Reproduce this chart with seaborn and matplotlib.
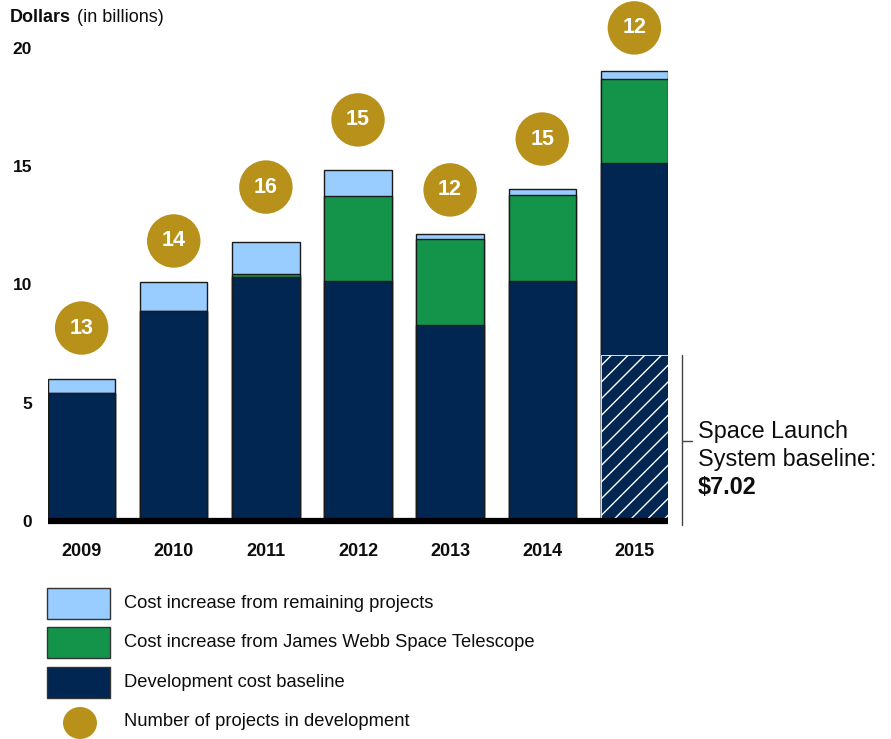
import matplotlib
matplotlib.use("Agg")
import matplotlib.pyplot as plt
import seaborn as sns
import numpy as np
import pandas as pd
from matplotlib.patches import Rectangle, Ellipse
from matplotlib.transforms import Affine2D, blended_transform_factory

# ---------------- data ----------------
years = ["2009", "2010", "2011", "2012", "2013", "2014", "2015"]
baseline_other = [5.4, 8.9, 10.3, 10.15, 8.3, 10.15, 8.12]   # development cost baseline (excluding SLS)
sls_baseline = [0, 0, 0, 0, 0, 0, 7.02]                     # Space Launch System baseline
jwst_increase = [0.0, 0.0, 0.15, 3.6, 3.62, 3.63, 3.55]       # cost increase from JWST
other_increase = [0.6, 1.2, 1.35, 1.1, 0.22, 0.26, 0.34]     # cost increase from remaining projects
n_projects = [13, 14, 16, 15, 12, 15, 12]

legend_labels = ["Cost increase from remaining projects",
                 "Cost increase from James Webb Space Telescope",
                 "Development cost baseline",
                 "Number of projects in development"]
yticks = [0, 5, 10, 15, 20]

# ---------------- style ----------------
NAVY = "#002651"
GREEN = "#14934A"
LIGHT = "#99CCFF"
GOLD = "#B8911A"
TXT = "#0d0d0d"
FONT = ["Liberation Sans", "DejaVu Sans"]

sns.set_style("white")
plt.rcParams["font.family"] = FONT
plt.rcParams["hatch.linewidth"] = 1.0
plt.rcParams["text.color"] = TXT
plt.rcParams["xtick.color"] = TXT
plt.rcParams["ytick.color"] = TXT

W, H = 891, 739
fig = plt.figure(figsize=(W / 100, H / 100), dpi=100)
ax = fig.add_axes([48 / W, 1 - 521 / H, (668 - 48) / W, (521 - 48) / H])

df = pd.DataFrame({
    "year": years,
    "sls": sls_baseline,
    "base": np.add(baseline_other, sls_baseline),
})
df["jwst"] = df["base"] + np.array(jwst_increase)
df["total"] = df["jwst"] + np.array(other_increase)

bw = 0.73
common = dict(x="year", order=years, width=bw, ax=ax, errorbar=None,
              linewidth=1.0, edgecolor="#1a1a1a")
sns.barplot(data=df, y="total", color=LIGHT, saturation=1, **common)
sns.barplot(data=df, y="jwst", color=GREEN, saturation=1, **common)
sns.barplot(data=df, y="base", color=NAVY, saturation=1, **common)
# SLS hatched portion
sns.barplot(data=df, x="year", y="sls", order=years, width=bw, ax=ax, errorbar=None,
            color=NAVY, saturation=1, edgecolor="white", linewidth=0.6, hatch="//")

# badges
badge_y = [8.16, 11.84, 14.12, 16.96, 14.0, 16.15, 20.85]
sns.scatterplot(x=years, y=badge_y, ax=ax, s=1480, color=GOLD, edgecolor="none",
                zorder=5, clip_on=False, legend=False)
for i, (yv, n) in enumerate(zip(badge_y, n_projects)):
    ax.text(i, yv, str(n), ha="center", va="center", color="white",
            fontsize=15.5, fontweight="bold", zorder=6, clip_on=False)

# axes styling
ax.set_xlim(-bw / 2, len(years) - 1 + bw / 2)
ax.set_ylim(0, 20)
ax.set_yticks(yticks)
ax.set_yticklabels([str(t) for t in yticks], fontsize=12.5, fontweight="bold")
ax.set_xticks(range(len(years)))
ax.set_xticklabels(years, fontsize=13, fontweight="bold")
ax.tick_params(axis="y", length=0, pad=11.5)
ax.tick_params(axis="x", length=0, pad=16)
ax.set_xlabel("")
ax.set_ylabel("")
for s in ["top", "right", "left", "bottom"]:
    ax.spines[s].set_visible(False)
ax.axhline(0, color="black", lw=4.5, zorder=7, clip_on=False, solid_capstyle="butt")

# title
px = Affine2D().scale(1 / W, -1 / H).translate(0, 1) + fig.transFigure
fig.text(10, 18, "Dollars", transform=px, fontsize=13, fontweight="bold", va="center", ha="left")
fig.text(77, 18, "(in billions)", transform=px, fontsize=13, va="center", ha="left")

# SLS annotation
bt = blended_transform_factory(ax.transAxes, ax.transData)
ax.plot([1.0226, 1.0226], [-0.15, sls_baseline[-1]], transform=bt, color="#444444",
        lw=1.0, clip_on=False)
ax.plot([1.0226, 1.0387], [3.38, 3.38], transform=bt, color="#444444", lw=1.0, clip_on=False)
ax.text(1.0484, 3.8, "Space Launch", transform=bt, fontsize=16.8, va="center", ha="left")
ax.text(1.0484, 2.58, "System baseline:", transform=bt, fontsize=16.8, va="center", ha="left")
ax.text(1.0484, 1.40, f"${sls_baseline[-1]:.2f}", transform=bt, fontsize=16.8, fontweight="bold",
        va="center", ha="left")

# legend
leg_colors = [LIGHT, GREEN, NAVY]
leg_y = [588, 627, 667]
for c, y0, lab in zip(leg_colors, leg_y, legend_labels[:3]):
    fig.add_artist(Rectangle((47, y0), 63, 31, transform=px, facecolor=c,
                             edgecolor="#333333", lw=1.0))
    fig.text(124, y0 + 15.5, lab, transform=px, fontsize=13.2, va="center", ha="left")
fig.add_artist(Ellipse((80, 723), 34, 32, transform=px, facecolor=GOLD, edgecolor="none"))
fig.text(124, 722, legend_labels[3], transform=px, fontsize=13.2, va="center", ha="left")

fig.savefig("out.png", dpi=100)
